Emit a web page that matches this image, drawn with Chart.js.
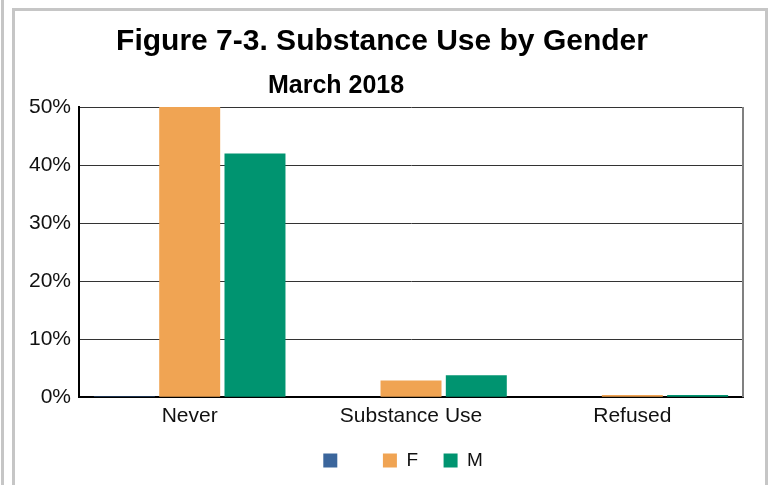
<!DOCTYPE html>
<html lang="en">
<head>
<meta charset="UTF-8">
<title>Substance Use by Gender</title>
<script src="https://cdn.jsdelivr.net/npm/chart.js"></script>
<style>
  body { margin: 0; background: #fff; }
  #wrap { position: relative; width: 771px; height: 485px; overflow: hidden; }
  #edge { position: absolute; left: 1px; top: 0; width: 3px; height: 485px; background: #c6c6c6; }
  #box { position: absolute; left: 12px; top: 8px; width: 750px; height: 500px; border: 3px solid #c6c6c6; border-bottom: none; }
  canvas { position: absolute; left: 0; top: 0; }
</style>
</head>
<body>
<div id="wrap">
  <div id="edge"></div>
  <div id="box"></div>
  <canvas id="chart" width="771" height="485"></canvas>
</div>
<script>
const categories = ['Never', 'Substance Use', 'Refused'];
const blankValues = [0.2, 0.1, 0];
const femaleValues = [50, 2.9, 0.4];
const maleValues = [42, 3.8, 0.4];
// trailing spaces keep the wide legend spacing of the original
const seriesLabels = ['    ', 'F  ', 'M   '];
const chartTitle = 'Figure 7-3. Substance Use by Gender';
const chartSubtitle = 'March 2018';

const FONT = '"Liberation Sans", Arial, sans-serif';

// subtitle sits left of centre in the original, plus the grey right edge of the plot
const extras = {
  id: 'extras',
  afterDraw(chart) {
    const { ctx, chartArea } = chart;
    ctx.save();
    ctx.font = 'bold 25px ' + FONT;
    ctx.fillStyle = '#000';
    ctx.textAlign = 'center';
    ctx.textBaseline = 'middle';
    ctx.fillText(chartSubtitle, chartArea.left + 257, chartArea.top - 21);
    ctx.strokeStyle = '#808080';
    ctx.lineWidth = 2;
    ctx.beginPath();
    ctx.moveTo(chartArea.right, chartArea.top);
    ctx.lineTo(chartArea.right, chartArea.bottom);
    ctx.stroke();
    ctx.restore();
  }
};

new Chart(document.getElementById('chart'), {
  type: 'bar',
  data: {
    labels: categories,
    datasets: [
      { label: seriesLabels[0], data: blankValues, backgroundColor: '#3b669c' },
      { label: seriesLabels[1], data: femaleValues, backgroundColor: '#f0a453' },
      { label: seriesLabels[2], data: maleValues, backgroundColor: '#009470' }
    ]
  },
  options: {
    responsive: false,
    animation: false,
    layout: { padding: { left: 21, right: 28, top: 0, bottom: 5 } },
    datasets: { bar: { categoryPercentage: 0.885, barPercentage: 0.934, borderWidth: 0 } },
    scales: {
      x: {
        grid: { display: false, drawTicks: false },
        border: { color: '#000', width: 2 },
        ticks: { color: '#111', padding: 12, font: { family: FONT, size: 21, lineHeight: 0.7 } }
      },
      y: {
        min: 0,
        max: 50,
        ticks: { stepSize: 10, color: '#111', padding: 8, font: { family: FONT, size: 21 }, callback: v => v + '%' },
        grid: { color: '#333', lineWidth: 1, drawTicks: false },
        border: { color: '#000', width: 2 }
      }
    },
    plugins: {
      title: {
        display: true,
        text: chartTitle,
        color: '#000',
        font: { family: FONT, size: 30, weight: 'bold' },
        padding: { top: 24, bottom: 47 }
      },
      legend: {
        position: 'bottom',
        fullSize: false,
        labels: { boxWidth: 14, boxHeight: 14, padding: 15, color: '#111', font: { family: FONT, size: 19 } }
      },
      tooltip: { enabled: false }
    }
  },
  plugins: [extras]
});
</script>
</body>
</html>
